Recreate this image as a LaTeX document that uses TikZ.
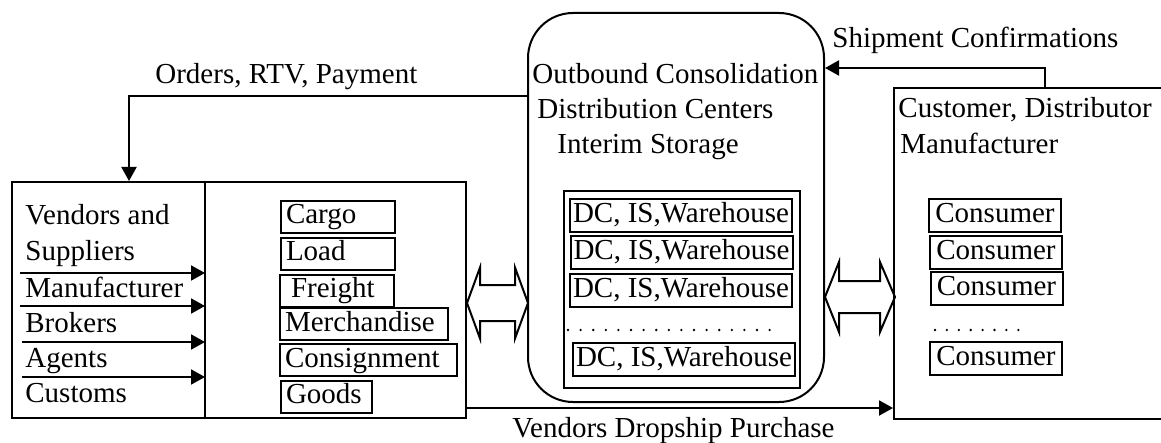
\documentclass[tikz,border=0pt]{standalone}
\usepackage{fontspec}
\setmainfont{Liberation Serif}
\usetikzlibrary{arrows.meta}
\begin{document}
\begin{tikzpicture}[x=0.5pt,y=-0.5pt,font=\fontsize{14.5}{17}\selectfont]
\tikzstyle{dep}= [-{Triangle[length=7pt,width=7.5pt]},line width=1pt]
\tikzstyle{bx}= [rectangle,draw,line width=1pt,inner sep=0pt]
\tikzstyle{lbl}= [anchor=base west,inner sep=0pt]
\tikzstyle{item}= [rectangle,draw,line width=1pt,minimum height=16pt,text height=10pt,text depth=3pt,inner xsep=2.5pt,inner ysep=0pt,anchor=west,align=left]
\tikzstyle{unit}= [rectangle,draw,line width=1pt,minimum height=16.5pt,text height=10pt,text depth=3pt,inner sep=0pt]
\tikzstyle{dots}= [line width=1.3pt,line cap=round]
\tikzstyle{dblarrow}= [line width=1pt,line join=miter]

\useasboundingbox (0,0) rectangle (1161,443);

\path
	(239,300) node[bx,minimum width=227pt,minimum height=118pt] (src) {}
	(676,207.5) node[bx,rounded corners=22.5pt,minimum width=148pt,minimum height=194.5pt] (dc) {}
	(682,289.5) node[bx,minimum width=118pt,minimum height=98.5pt] (dcset) {}
	(1034.5,253.5) node[bx,minimum width=140.5pt,minimum height=165.5pt] (cust) {}
;
\coordinate (divtop) at (205,182);
\coordinate (divbot) at (205,418);
\draw[line width=1pt] (divtop) -- (divbot);

\path
	(25,225) node[lbl] (vend) {Vendors and}
	(25,261) node[lbl] (supp) {Suppliers}
	(25,297) node[lbl] (manu) {Manufacturer}
	(25,332) node[lbl] (brok) {Brokers}
	(25,367) node[lbl] (agen) {Agents}
	(25,402) node[lbl] (cust-s) {Customs}
;
\coordinate (in1) at (20,273);
\coordinate (in2) at (20,306);
\coordinate (in3) at (22,342);
\coordinate (in4) at (22,377);
\draw[dep] (in1) -- (in1 -| divtop);
\draw[dep] (in2) -- (in2 -| divtop);
\draw[dep] (in3) -- (in3 -| divtop);
\draw[dep] (in4) -- (in4 -| divtop);

\path
	(280,217) node[item,text width=52pt] (cargo) {Cargo}
	(280,254) node[item,text width=52pt] (load) {Load}
	(279,290.5) node[item,text width=52pt] (freight) {\hspace{3pt}Freight}
	(279,324) node[item,text width=79pt] (merch) {Merchandise}
	(279,360) node[item,text width=83.5pt] (consig) {Consignment}
	(280,396.5) node[item,text width=40.5pt] (goods) {Goods}
;

\path
	(532,84) node[lbl] (outb) {Outbound Consolidation}
	(537,119) node[lbl] (distc) {Distribution Centers}
	(557,154) node[lbl] (inter) {Interim Storage}
	(681,216) node[unit,minimum width=111pt] (wh1) {DC, IS,Warehouse}
	(681.5,252.5) node[unit,minimum width=111pt] (wh2) {DC, IS,Warehouse}
	(681,290.5) node[unit,minimum width=111pt] (wh3) {DC, IS,Warehouse}
	(684,359.5) node[unit,minimum width=111pt] (wh4) {DC, IS,Warehouse}
;
\draw[dots,dash pattern=on 0pt off 6.3pt] (568,330) -- (782,330);

\path
	(898,118) node[lbl] (custd) {Customer, Distributor}
	(900,154) node[lbl] (custm) {Manufacturer}
	(995,216) node[unit,minimum width=66pt] (cons1) {Consumer}
	(996,252.5) node[unit,minimum width=66pt] (cons2) {Consumer}
	(996.5,288.5) node[unit,minimum width=66pt] (cons3) {Consumer}
	(996,358.5) node[unit,minimum width=66pt] (cons4) {Consumer}
;
\draw[dots,dash pattern=on 0pt off 5.95pt] (935,330) -- (1030,330);

\coordinate (ordturn) at (129,96);
\coordinate (shipturn) at (1045,68);
\coordinate (drop) at (680,408);
\draw[dep] (dc.west |- ordturn) -- (ordturn) -- (ordturn |- src.north);
\draw[dep] (shipturn |- cust.north) -- (shipturn) -- (shipturn -| dc.east);
\draw[dep] (src.east |- drop) -- (drop -| cust.west);
\path
	(155,84) node[lbl] (ordlbl) {Orders, RTV, Payment}
	(832,48) node[lbl] (shiplbl) {Shipment Confirmations}
	(512,437) node[lbl] (droplbl) {Vendors Dropship Purchase}
;

\draw[dblarrow] (src.east |- 0,303) -- ++(13,-35.5) -- ++(0,17.5) -- ++(35,0) -- ++(0,-17.5)
	-- ++(13,35.5) -- ++(-13,35.5) -- ++(0,-17.5) -- ++(-35,0) -- ++(0,17.5) -- cycle;
\draw[dblarrow] (dc.east |- 0,297) -- ++(14,-35) -- ++(0,19) -- ++(41,0) -- ++(0,-19)
	-- ++(15,35) -- ++(-15,35) -- ++(0,-19) -- ++(-41,0) -- ++(0,19) -- cycle;
\end{tikzpicture}
\end{document}
